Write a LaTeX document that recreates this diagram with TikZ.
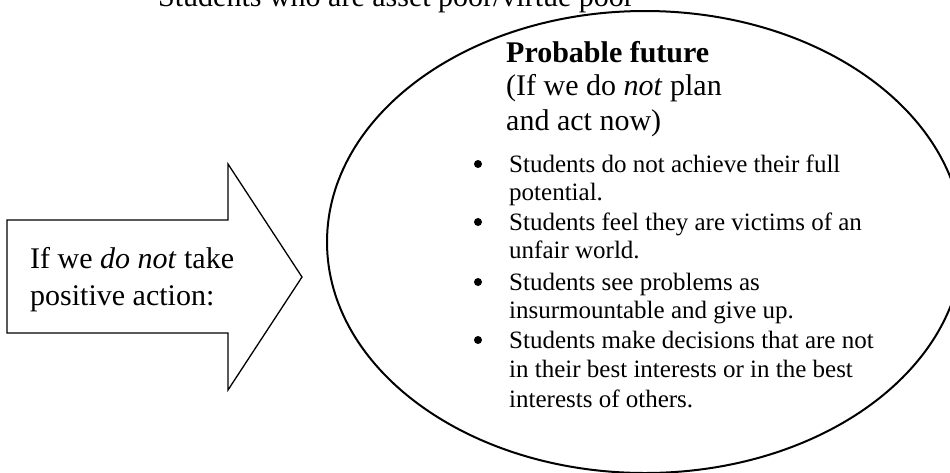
\documentclass[tikz,border=0pt]{standalone}
\usepackage{fontspec}
\setmainfont{Liberation Serif}
\usetikzlibrary{shapes.geometric}
\begin{document}
\begin{tikzpicture}[x=1pt,y=-1pt,
  big/.style={font=\fontsize{30}{36}\selectfont, inner sep=0pt, anchor=base west},
  small/.style={font=\fontsize{25}{29}\selectfont, inner sep=0pt, anchor=base west},
  dot/.style={circle, fill=black, inner sep=0pt, minimum size=8pt},
  outline/.style={draw=black, line width=1.3pt, line join=miter}]
\useasboundingbox (0,0) rectangle (950,472);

% the oval holding the probable future
\node[ellipse, draw=black, line width=2pt, minimum width=636pt,
      minimum height=462pt, inner sep=0pt] (future) at (645,242) {};

% block arrow pointing into the oval
\draw[outline] (7,220) coordinate (tail) -- (228,220) -- (228,164)
  -- (302,277) coordinate (tip) -- (228,390) -- (228,333) -- (7,333) -- cycle;

% heading above the diagram
\node[big] (caption) at (158,6) {Students who are asset poor/virtue poor};

% text in the arrow
\node[big] (cause1) at (30,268) {If we \textit{do not} take};
\node[big] (cause2) at (30,305) {positive action:};

% title inside the oval
\node[big, font=\fontsize{30}{36}\selectfont\bfseries] (head) at (506,62) {Probable future};
\node[big] (sub1) at (506,95) {(If we do \textit{not} plan};
\node[big] (sub2) at (506,130) {and act now)};

% bullet list
\node[dot] (b1) at (478,164) {};
\node[small] (l1) at (509,172) {Students do not achieve their full};
\node[small] (l2) at (509,200) {potential.};
\node[dot] (b2) at (478,222) {};
\node[small] (l3) at (509,230) {Students feel they are victims of an};
\node[small] (l4) at (509,258) {unfair world.};
\node[dot] (b3) at (478,282) {};
\node[small] (l5) at (509,290) {Students see problems as};
\node[small] (l6) at (509,318) {insurmountable and give up.};
\node[dot] (b4) at (478,340) {};
\node[small] (l7) at (509,348) {Students make decisions that are not};
\node[small] (l8) at (509,377) {in their best interests or in the best};
\node[small] (l9) at (509,407) {interests of others.};
\end{tikzpicture}
\end{document}
